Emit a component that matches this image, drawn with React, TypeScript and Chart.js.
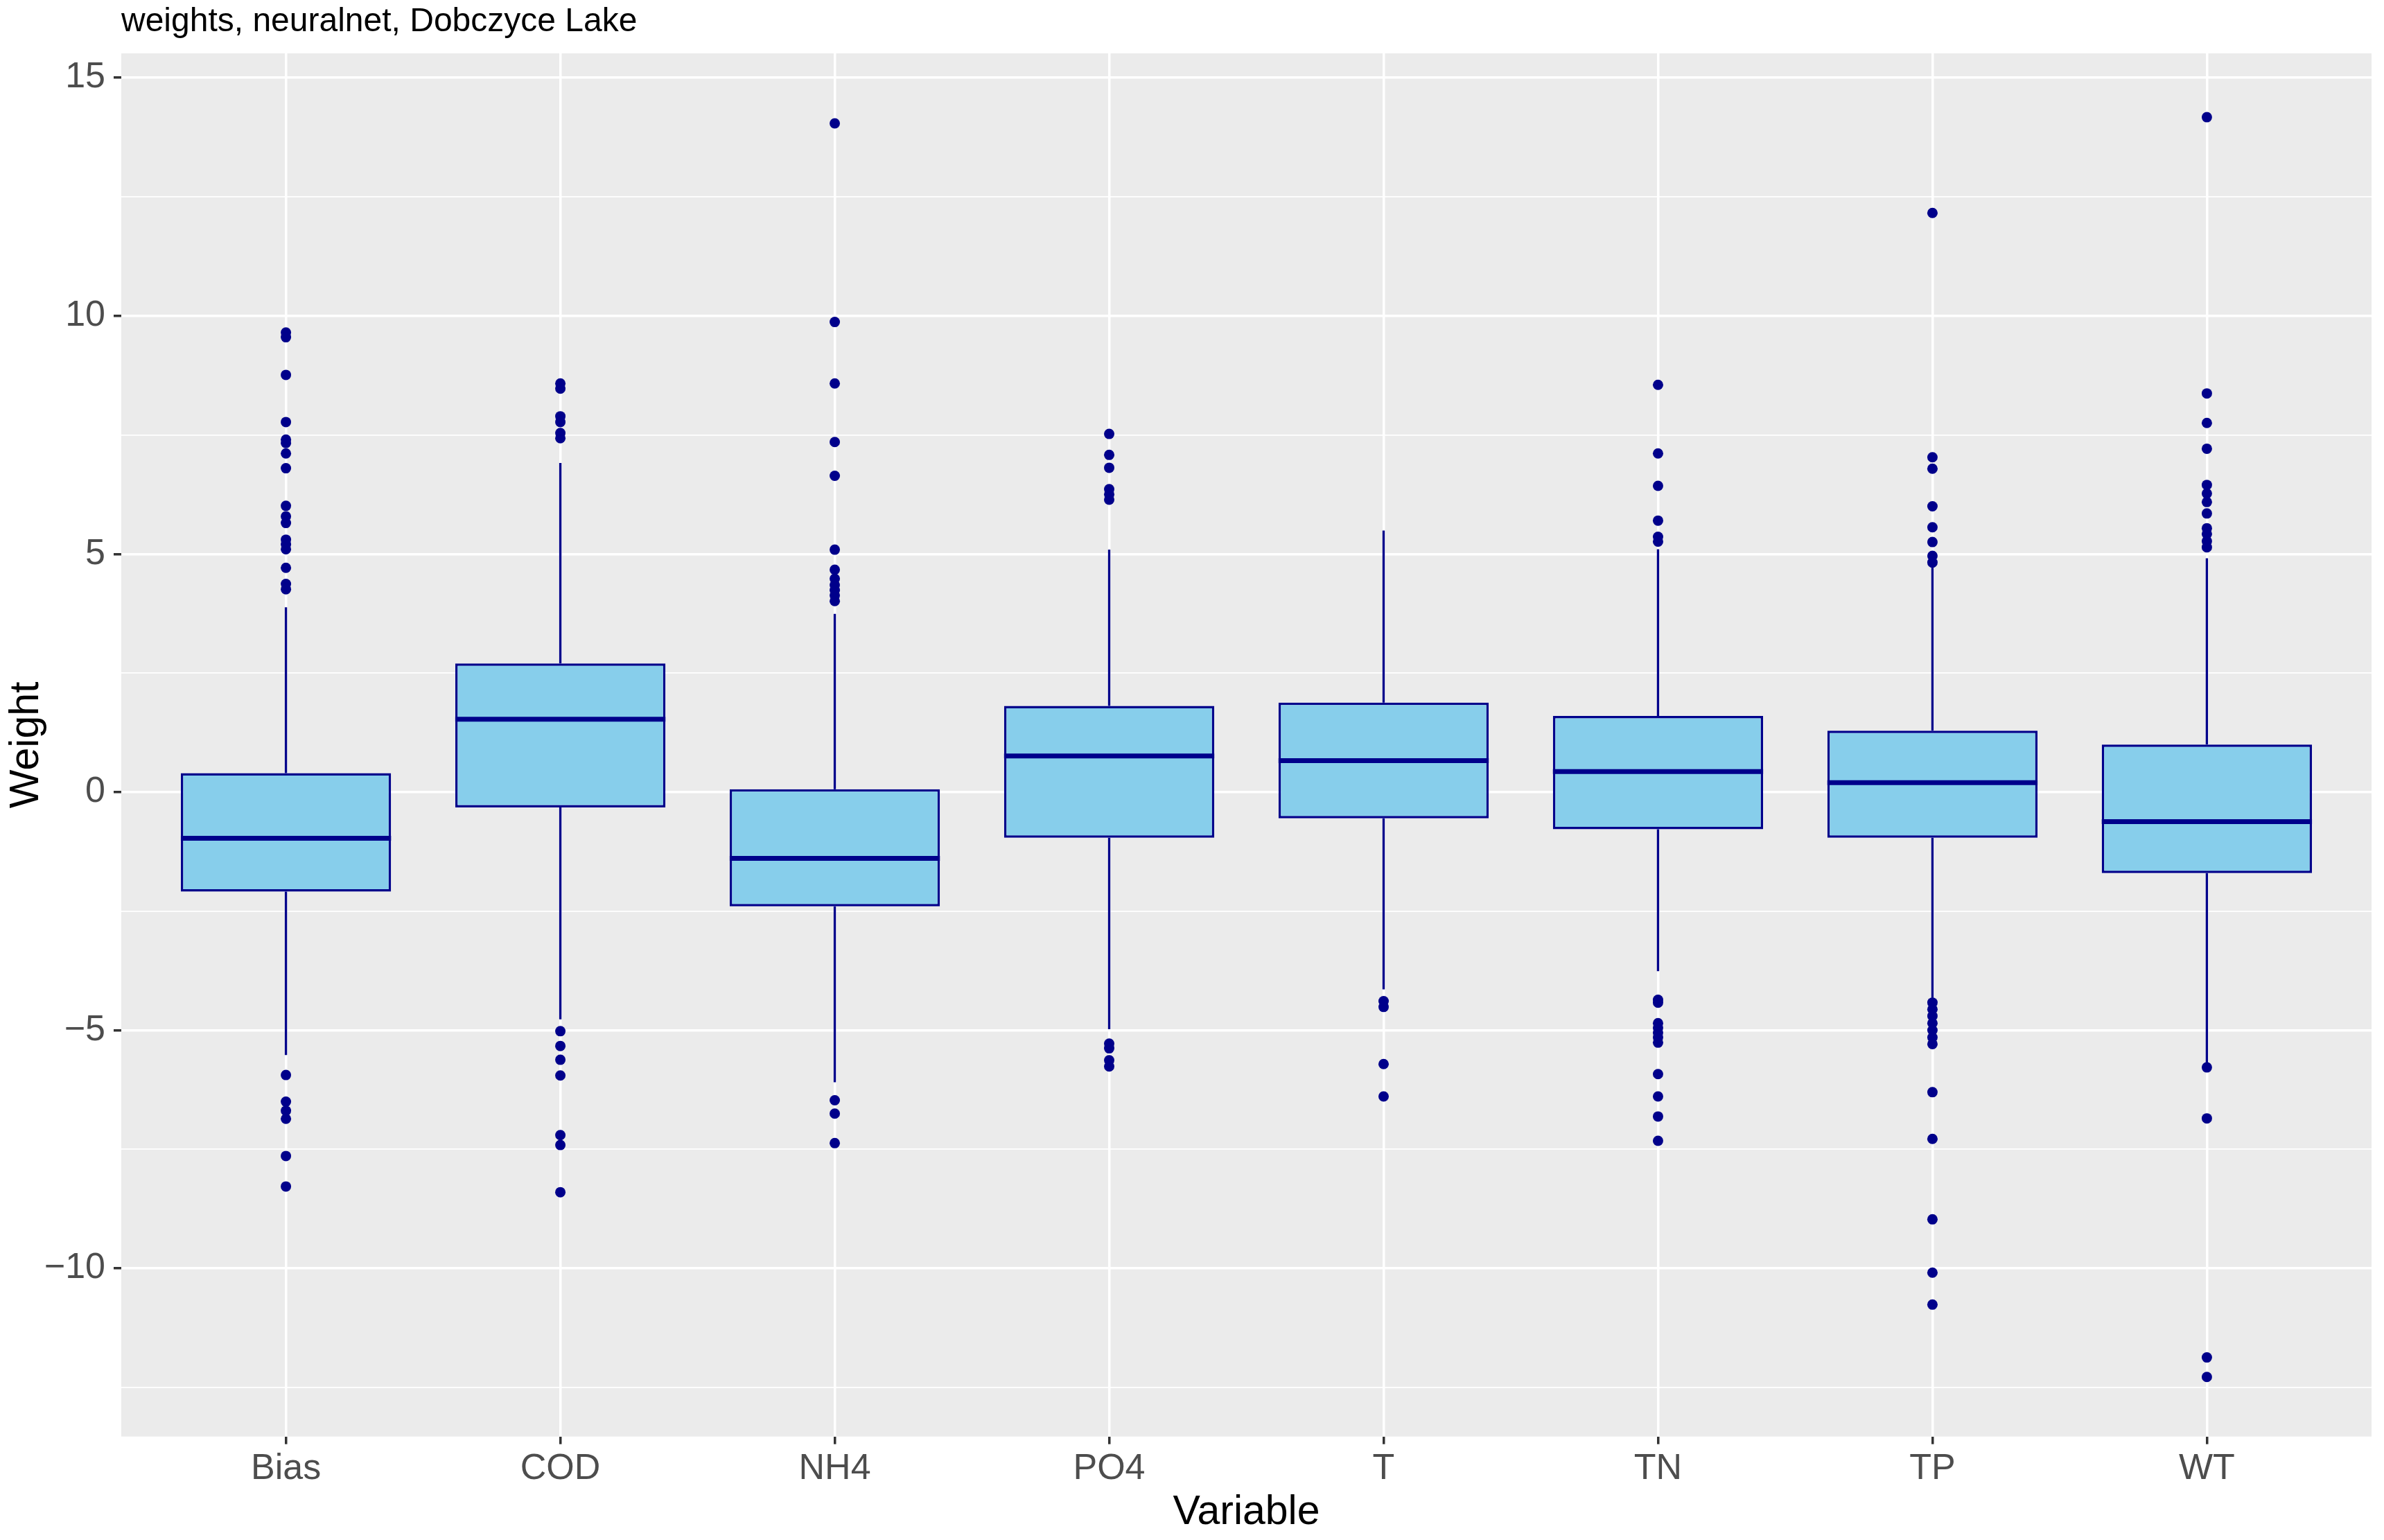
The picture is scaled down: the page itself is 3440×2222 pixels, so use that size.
import React, { useEffect, useRef } from 'react';
import { Chart, registerables } from 'chart.js';

Chart.register(...registerables);

// ---------- data ----------
const categories = ['Bias', 'COD', 'NH4', 'PO4', 'T', 'TN', 'TP', 'WT'];

const q1Values = [-2.09, -0.32, -2.40, -0.96, -0.55, -0.78, -0.96, -1.70];
const medianValues = [-0.97, 1.53, -1.39, 0.76, 0.66, 0.43, 0.20, -0.62];
const q3Values = [0.40, 2.70, 0.06, 1.81, 1.88, 1.60, 1.29, 1.00];
const whiskerLowValues = [-5.52, -4.77, -6.09, -4.98, -4.14, -3.76, -4.33, -5.72];
const whiskerHighValues = [3.88, 6.91, 3.74, 5.09, 5.49, 5.10, 4.73, 4.91];

const biasOutliers = [9.65, 9.55, 8.76, 7.77, 7.40, 7.33, 7.11, 6.80, 6.01, 5.79, 5.65, 5.30, 5.20, 5.10, 4.71, 4.37, 4.26, -5.94, -6.50, -6.69, -6.86, -7.64, -8.28];
const codOutliers = [8.58, 8.47, 7.89, 7.77, 7.54, 7.43, -5.02, -5.33, -5.62, -5.95, -7.20, -7.41, -8.40];
const nh4Outliers = [14.04, 9.87, 8.58, 7.35, 6.64, 5.09, 4.67, 4.48, 4.35, 4.24, 4.13, 4.01, -6.47, -6.75, -7.37];
const po4Outliers = [7.52, 7.08, 6.81, 6.36, 6.25, 6.14, -5.28, -5.38, -5.63, -5.76];
const tOutliers = [-4.39, -4.51, -5.71, -6.39];
const tnOutliers = [8.55, 7.11, 6.43, 5.70, 5.36, 5.26, -4.36, -4.42, -4.85, -4.95, -5.05, -5.15, -5.26, -5.92, -6.39, -6.81, -7.32];
const tpOutliers = [12.16, 7.03, 6.79, 6.00, 5.56, 5.25, 4.96, 4.82, -4.42, -4.56, -4.70, -4.85, -5.00, -5.15, -5.29, -6.30, -7.28, -8.97, -10.09, -10.76];
const wtOutliers = [14.17, 8.37, 7.75, 7.21, 6.45, 6.27, 6.09, 5.85, 5.54, 5.42, 5.27, 5.14, -5.78, -6.85, -11.87, -12.28];

const outlierGroups = [biasOutliers, codOutliers, nh4Outliers, po4Outliers, tOutliers, tnOutliers, tpOutliers, wtOutliers];

const yMajorTicks = [-10, -5, 0, 5, 10, 15];
const yMinorTicks = [-12.5, -7.5, -2.5, 2.5, 7.5, 12.5];

const titleText = 'weights, neuralnet, Dobczyce Lake';
const xTitle = 'Variable';
const yTitle = 'Weight';

// ---------- styles ----------
const FONT = '"Liberation Sans", Arial, sans-serif';
const BOX_FILL = '#87CEEB';
const BOX_LINE = '#00008B';
const PANEL_BG = '#EBEBEB';

const isMajor = (v: number) => yMajorTicks.includes(v);
const fmtNum = (v: number) => (v < 0 ? '\u2212' + Math.abs(v) : String(v));

const panelBgPlugin = {
  id: 'panelBg',
  beforeDraw(chart: any) {
    const { ctx, chartArea: a } = chart;
    ctx.save();
    ctx.fillStyle = PANEL_BG;
    ctx.fillRect(a.left, a.top, a.right - a.left, a.bottom - a.top);
    ctx.restore();
  },
};

const boxPartsPlugin = {
  id: 'boxParts',
  beforeDatasetsDraw(chart: any) {
    const { ctx } = chart;
    const xs = chart.scales.x;
    const ys = chart.scales.y;
    ctx.save();
    ctx.strokeStyle = BOX_LINE;
    ctx.lineWidth = 3.3;
    ctx.lineCap = 'butt';
    categories.forEach((_, i) => {
      const x = xs.getPixelForValue(i);
      ctx.beginPath();
      ctx.moveTo(x, ys.getPixelForValue(q3Values[i]));
      ctx.lineTo(x, ys.getPixelForValue(whiskerHighValues[i]));
      ctx.moveTo(x, ys.getPixelForValue(q1Values[i]));
      ctx.lineTo(x, ys.getPixelForValue(whiskerLowValues[i]));
      ctx.stroke();
    });
    ctx.restore();
  },
  afterDatasetDraw(chart: any, args: any) {
    if (args.index !== 0) return;
    const { ctx } = chart;
    const ys = chart.scales.y;
    const meta = chart.getDatasetMeta(0);
    ctx.save();
    ctx.strokeStyle = BOX_LINE;
    ctx.lineWidth = 7;
    ctx.lineCap = 'butt';
    meta.data.forEach((el: any, i: number) => {
      const y = ys.getPixelForValue(medianValues[i]);
      ctx.beginPath();
      ctx.moveTo(el.x - el.width / 2, y);
      ctx.lineTo(el.x + el.width / 2, y);
      ctx.stroke();
    });
    ctx.restore();
  },
};

export default function App() {
  const ref = useRef<HTMLCanvasElement>(null);

  useEffect(() => {
    document.body.style.margin = '0';
    Chart.defaults.font.family = FONT;

    const boxData = categories.map((_, i) => ({ x: i, y: [q1Values[i], q3Values[i]] }));
    const outlierData = outlierGroups.flatMap((arr, i) => arr.map((v) => ({ x: i, y: v })));

    const chart = new Chart(ref.current as HTMLCanvasElement, {
      type: 'bar',
      data: {
        datasets: [
          {
            type: 'bar',
            data: boxData as any,
            backgroundColor: BOX_FILL,
            borderColor: BOX_LINE,
            borderWidth: 3.5,
            borderSkipped: false,
            barPercentage: 0.766,
            categoryPercentage: 1,
            order: 2,
          } as any,
          {
            type: 'scatter',
            data: outlierData as any,
            backgroundColor: BOX_LINE,
            borderWidth: 0,
            pointRadius: 7.5,
            pointHoverRadius: 7.5,
            order: 1,
          } as any,
        ],
      },
      options: {
        animation: false,
        responsive: true,
        maintainAspectRatio: false,
        devicePixelRatio: 1,
        layout: { padding: { left: 0, right: 18, top: 0, bottom: 0 } },
        plugins: {
          legend: { display: false },
          tooltip: { enabled: false },
          title: {
            display: true,
            text: titleText,
            align: 'start',
            fullSize: false,
            color: '#000000',
            font: { family: FONT, size: 48, weight: 'normal' },
            padding: { top: 3, bottom: 16.4 },
          },
        },
        scales: {
          x: {
            type: 'linear',
            offset: false,
            min: -0.6,
            max: categories.length - 1 + 0.6,
            afterBuildTicks: (s: any) => {
              s.ticks = categories.map((_, i) => ({ value: i }));
            },
            afterFit: (s: any) => {
              s.height = 149.3;
            },
            border: { display: false },
            grid: {
              offset: false,
              color: '#FFFFFF',
              lineWidth: 3.5,
              drawTicks: true,
              tickLength: 11,
              tickColor: '#333333',
              tickWidth: 3.5,
            },
            ticks: {
              autoSkip: false,
              maxRotation: 0,
              padding: 5,
              color: '#4D4D4D',
              font: { family: FONT, size: 52 },
              callback: (v: any) => categories[Math.round(Number(v))] ?? '',
            },
            title: {
              display: true,
              text: xTitle,
              color: '#000000',
              font: { family: FONT, size: 59 },
              padding: { top: 0, bottom: 4 },
            },
          } as any,
          y: {
            type: 'linear',
            min: -13.53,
            max: 15.51,
            afterBuildTicks: (s: any) => {
              s.ticks = [...yMinorTicks, ...yMajorTicks]
                .sort((a, b) => a - b)
                .map((v) => ({ value: v }));
            },
            afterFit: (s: any) => {
              s.width = 175;
            },
            border: { display: false },
            grid: {
              color: '#FFFFFF',
              lineWidth: (c: any) => (c.tick && isMajor(c.tick.value) ? 3.5 : 1.75),
              drawTicks: true,
              tickLength: 11,
              tickColor: (c: any) => (c.tick && isMajor(c.tick.value) ? '#333333' : 'rgba(0,0,0,0)'),
              tickWidth: 3.5,
            },
            ticks: {
              autoSkip: false,
              padding: 12,
              color: '#4D4D4D',
              font: { family: FONT, size: 52 },
              callback: (v: any) => (isMajor(Number(v)) ? fmtNum(Number(v)) : ''),
            },
            title: {
              display: true,
              text: yTitle,
              color: '#000000',
              font: { family: FONT, size: 59 },
              padding: { top: 3.2, bottom: 0 },
            },
          } as any,
        },
      } as any,
      plugins: [panelBgPlugin, boxPartsPlugin],
    });

    return () => chart.destroy();
  }, []);

  return (
    <div style={{ position: 'absolute', left: 0, top: 0, width: 3440, height: 2222 }}>
      <canvas ref={ref} />
    </div>
  );
}
